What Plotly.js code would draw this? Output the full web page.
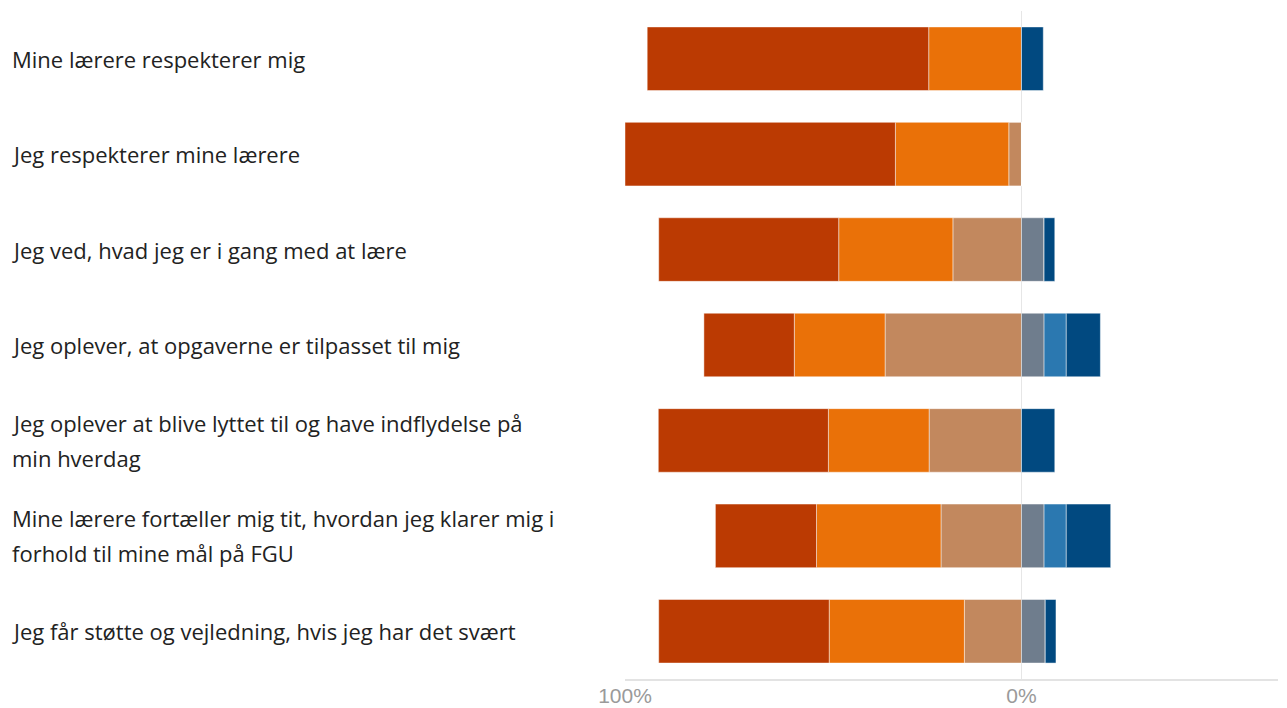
<!DOCTYPE html>
<html>
<head>
<meta charset="utf-8">
<script src="https://cdn.plot.ly/plotly-3.0.1.min.js"></script>
<style>
html,body{margin:0;padding:0;background:#fff;}
#chart{width:1287px;height:708px;}
</style>
</head>
<body>
<div id="chart"></div>
<script>
// Categories (top to bottom)
const categories = [
  "Mine lærere respekterer mig",
  "Jeg respekterer mine lærere",
  "Jeg ved, hvad jeg er i gang med at lære",
  "Jeg oplever, at opgaverne er tilpasset til mig",
  "Jeg oplever at blive lyttet til og have indflydelse på<br>min hverdag",
  "Mine lærere fortæller mig tit, hvordan jeg klarer mig i<br>forhold til mine mål på FGU",
  "Jeg får støtte og vejledning, hvis jeg har det svært"
];

// Left side (percent shares, drawn to the left of 0)
const darkRed = [71.0, 68.2, 45.4, 22.8, 42.9, 25.5, 43.0];
const orange  = [23.4, 28.6, 28.8, 22.9, 25.4, 31.4, 34.1];
const tan     = [0.0,  3.2, 17.3, 34.4, 23.3, 20.3, 14.4];
// Right side (percent shares, drawn to the right of 0)
const gray     = [0.0, 0.0, 5.7, 5.7, 0.0, 5.7, 6.0];
const midBlue  = [0.0, 0.0, 0.0, 5.6, 0.0, 5.6, 0.0];
const darkBlue = [5.5, 0.0, 2.7, 8.6, 8.4, 11.2, 2.7];

const tickVals = [-100, 0];
const tickText = ["100%", "0%"];

const colors = {
  darkRed: "#BB3A02", orange: "#EA7108", tan: "#C2885E",
  gray: "#6F7D8D", midBlue: "#2B78B0", darkBlue: "#014980"
};

function trace(vals, color, sign) {
  return {
    type: "bar", orientation: "h",
    y: categories,
    x: vals.map(v => sign * v),
    marker: { color: color, line: { color: "rgba(255,255,255,0.45)", width: 1 } },
    hoverinfo: "skip",
    showlegend: false
  };
}

const data = [
  trace(tan, colors.tan, -1),
  trace(orange, colors.orange, -1),
  trace(darkRed, colors.darkRed, -1),
  trace(gray, colors.gray, 1),
  trace(midBlue, colors.midBlue, 1),
  trace(darkBlue, colors.darkBlue, 1)
];

const margin = { l: 624.5, r: 9, t: 11, b: 29, pad: 0 };

// left-aligned category labels, one annotation per line
const annotations = [];
categories.forEach(cat => {
  const lines = cat.split("<br>");
  const lh = 35;
  lines.forEach((ln, i) => {
    annotations.push({
      xref: "paper", yref: "y", x: 0, y: cat,
      xanchor: "left", yanchor: "middle", align: "left",
      xshift: 12 - margin.l - 3,
      yshift: -((i - (lines.length - 1) / 2) * lh),
      text: ln, showarrow: false,
      font: { family: "Open Sans, Noto Sans, sans-serif", size: 22, color: "#222222" }
    });
  });
});

const layout = {
  width: 1287, height: 708,
  margin: margin,
  paper_bgcolor: "#ffffff", plot_bgcolor: "#ffffff",
  barmode: "relative",
  bargap: 0.334,
  showlegend: false,
  xaxis: {
    range: [-100, 64.7],
    tickvals: tickVals, ticktext: tickText,
    showgrid: true, gridcolor: "#e6e6e6", gridwidth: 1.5,
    zeroline: false,
    showline: true, linecolor: "#e3e3e3", linewidth: 1.5,
    ticks: "",
    ticklabelstandoff: -3,
    tickfont: { family: "Liberation Sans, Arial, sans-serif", size: 21, color: "#9a9a9a" },
    fixedrange: true
  },
  yaxis: {
    type: "category",
    categoryorder: "array", categoryarray: categories,
    autorange: "reversed",
    showticklabels: false, showgrid: false, zeroline: false, showline: false,
    ticks: "",
    fixedrange: true
  },
  annotations: annotations
};

Plotly.newPlot("chart", data, layout, { displayModeBar: false, staticPlot: true });
</script>
</body>
</html>
